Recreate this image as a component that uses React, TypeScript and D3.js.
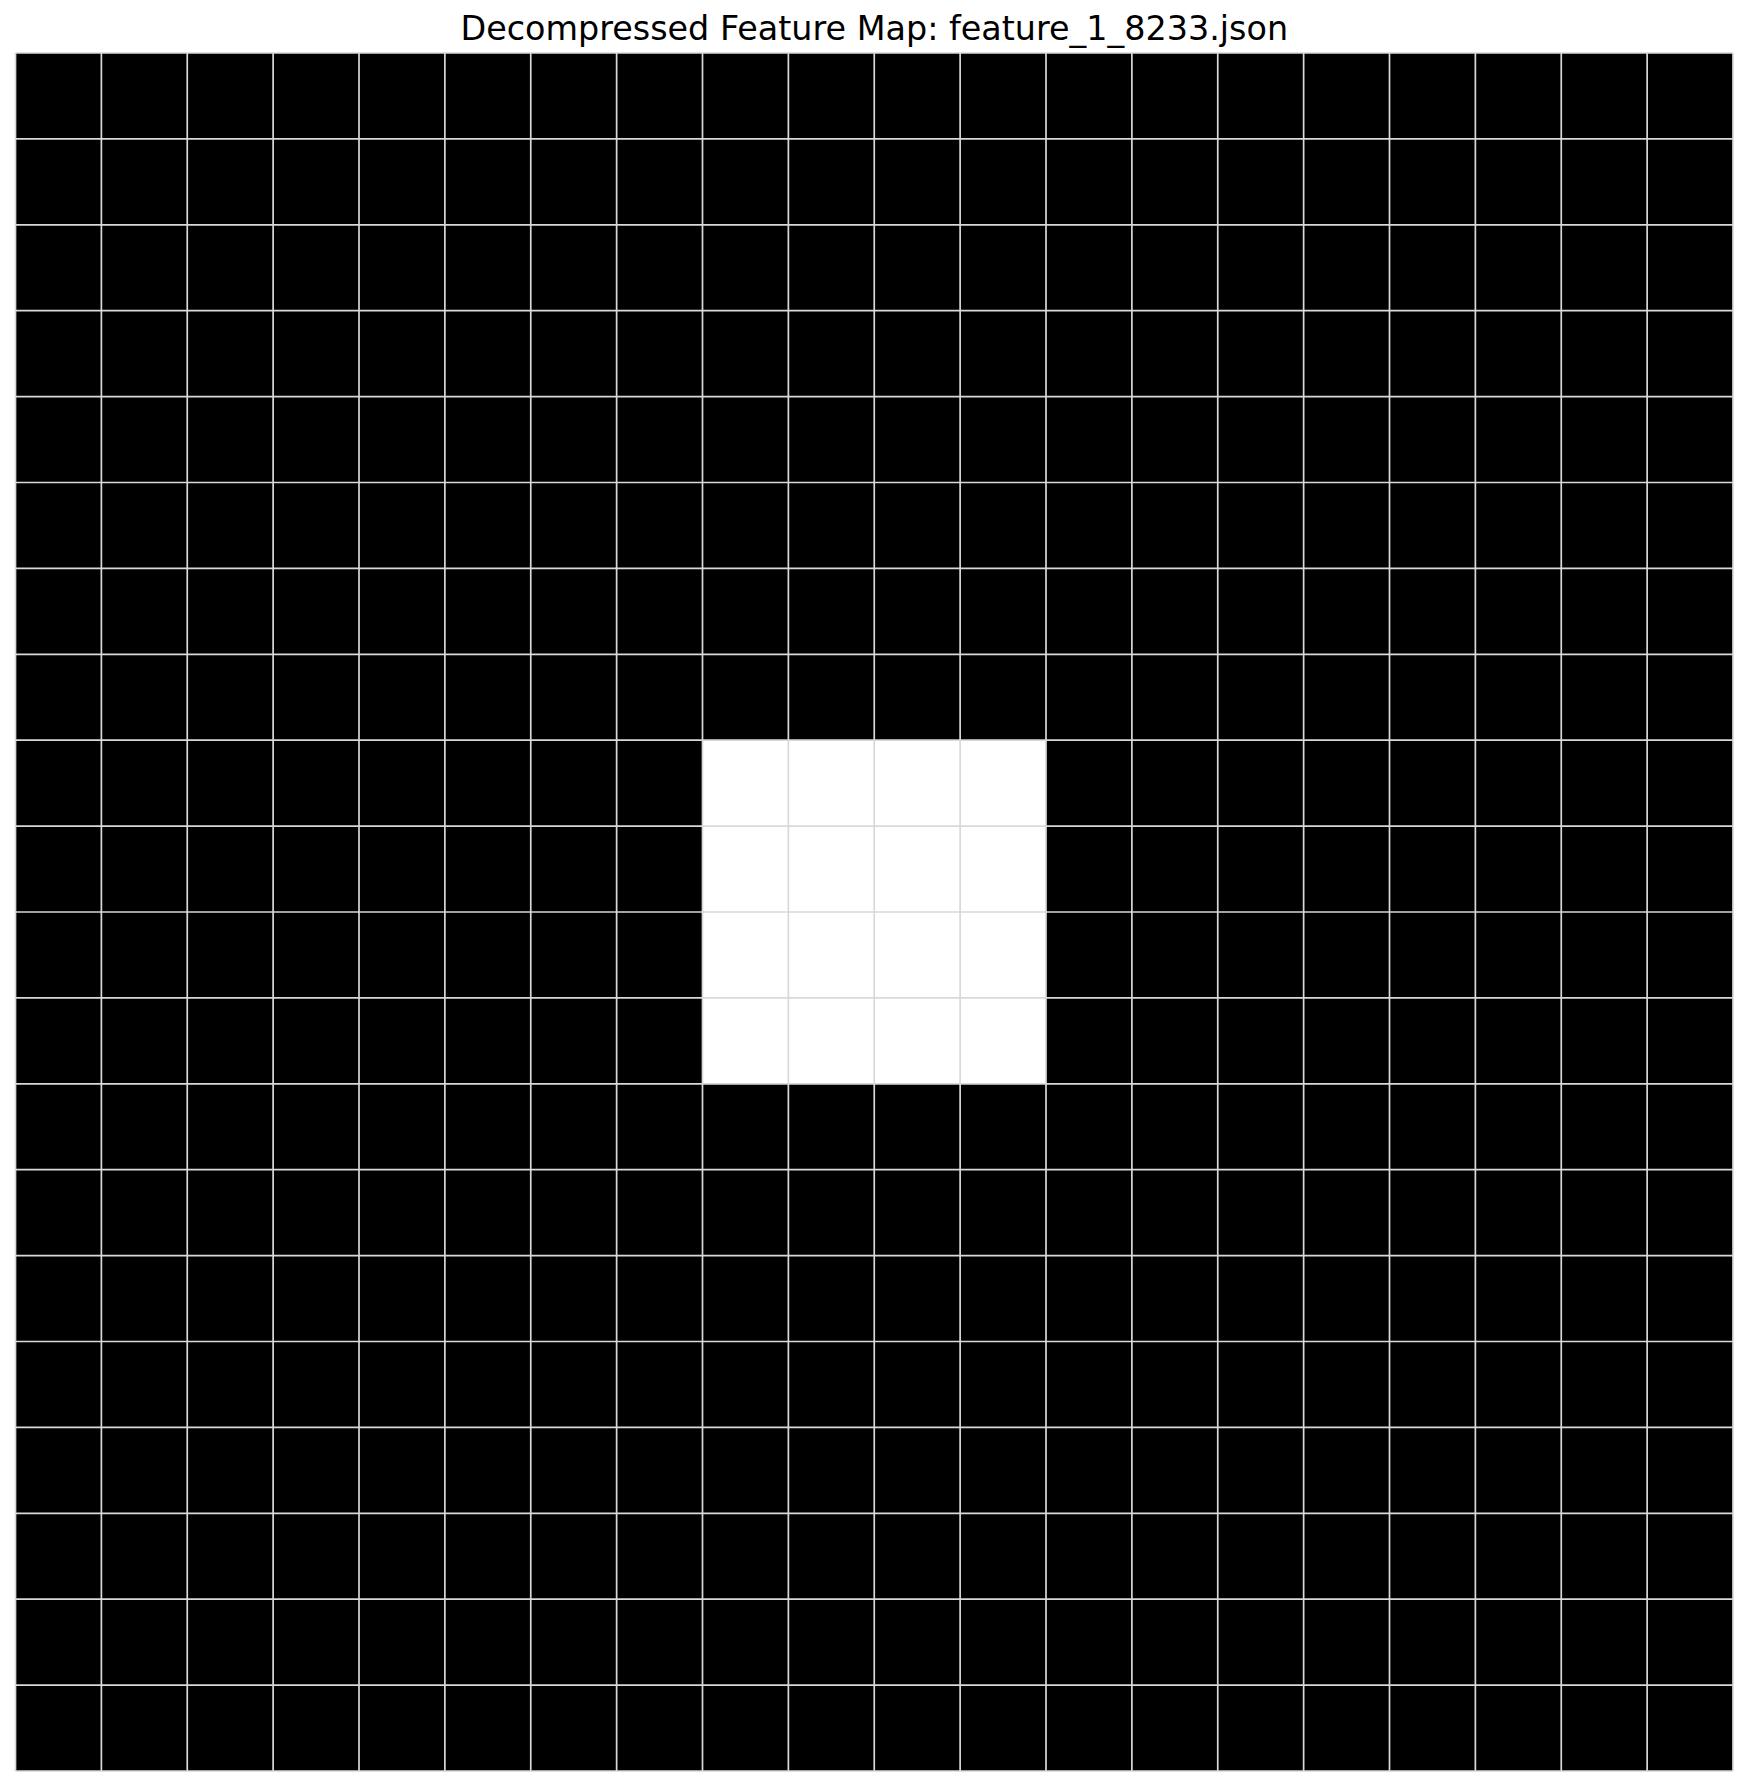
import { useEffect, useRef } from 'react'
import * as d3 from 'd3'

const TITLE = 'Decompressed Feature Map: feature_1_8233.json'

// 20 x 20 feature map, 1 = active (white), 0 = inactive (black)
const FEATURE_ROWS: number[][] = [
  [0, 0, 0, 0, 0, 0, 0, 0, 0, 0, 0, 0, 0, 0, 0, 0, 0, 0, 0, 0],
  [0, 0, 0, 0, 0, 0, 0, 0, 0, 0, 0, 0, 0, 0, 0, 0, 0, 0, 0, 0],
  [0, 0, 0, 0, 0, 0, 0, 0, 0, 0, 0, 0, 0, 0, 0, 0, 0, 0, 0, 0],
  [0, 0, 0, 0, 0, 0, 0, 0, 0, 0, 0, 0, 0, 0, 0, 0, 0, 0, 0, 0],
  [0, 0, 0, 0, 0, 0, 0, 0, 0, 0, 0, 0, 0, 0, 0, 0, 0, 0, 0, 0],
  [0, 0, 0, 0, 0, 0, 0, 0, 0, 0, 0, 0, 0, 0, 0, 0, 0, 0, 0, 0],
  [0, 0, 0, 0, 0, 0, 0, 0, 0, 0, 0, 0, 0, 0, 0, 0, 0, 0, 0, 0],
  [0, 0, 0, 0, 0, 0, 0, 0, 0, 0, 0, 0, 0, 0, 0, 0, 0, 0, 0, 0],
  [0, 0, 0, 0, 0, 0, 0, 0, 1, 1, 1, 1, 0, 0, 0, 0, 0, 0, 0, 0],
  [0, 0, 0, 0, 0, 0, 0, 0, 1, 1, 1, 1, 0, 0, 0, 0, 0, 0, 0, 0],
  [0, 0, 0, 0, 0, 0, 0, 0, 1, 1, 1, 1, 0, 0, 0, 0, 0, 0, 0, 0],
  [0, 0, 0, 0, 0, 0, 0, 0, 1, 1, 1, 1, 0, 0, 0, 0, 0, 0, 0, 0],
  [0, 0, 0, 0, 0, 0, 0, 0, 0, 0, 0, 0, 0, 0, 0, 0, 0, 0, 0, 0],
  [0, 0, 0, 0, 0, 0, 0, 0, 0, 0, 0, 0, 0, 0, 0, 0, 0, 0, 0, 0],
  [0, 0, 0, 0, 0, 0, 0, 0, 0, 0, 0, 0, 0, 0, 0, 0, 0, 0, 0, 0],
  [0, 0, 0, 0, 0, 0, 0, 0, 0, 0, 0, 0, 0, 0, 0, 0, 0, 0, 0, 0],
  [0, 0, 0, 0, 0, 0, 0, 0, 0, 0, 0, 0, 0, 0, 0, 0, 0, 0, 0, 0],
  [0, 0, 0, 0, 0, 0, 0, 0, 0, 0, 0, 0, 0, 0, 0, 0, 0, 0, 0, 0],
  [0, 0, 0, 0, 0, 0, 0, 0, 0, 0, 0, 0, 0, 0, 0, 0, 0, 0, 0, 0],
  [0, 0, 0, 0, 0, 0, 0, 0, 0, 0, 0, 0, 0, 0, 0, 0, 0, 0, 0, 0],
]

const WIDTH = 1748
const HEIGHT = 1787

export default function App() {
  const svgRef = useRef<SVGSVGElement>(null)

  useEffect(() => {
    document.body.style.margin = '0'
    const svgEl = svgRef.current
    if (!svgEl) return

    const margin = { top: 53, right: 15, bottom: 16, left: 15.5 }
    const W = WIDTH - margin.left - margin.right
    const H = HEIGHT - margin.top - margin.bottom

    const svg = d3.select(svgEl)
    svg.selectAll('*').remove()

    const nRows = FEATURE_ROWS.length
    const nCols = FEATURE_ROWS[0].length

    const x = d3.scaleBand<number>()
      .domain(d3.range(nCols))
      .range([0, W])
    const y = d3.scaleBand<number>()
      .domain(d3.range(nRows))
      .range([0, H])

    const color = d3.scaleOrdinal<number, string>()
      .domain([0, 1])
      .range(['#000000', '#ffffff'])

    const g = svg.append('g')
      .attr('transform', `translate(${margin.left},${margin.top})`)

    const cells = FEATURE_ROWS.flatMap((row, r) => row.map((v, c) => ({ r, c, v })))

    g.selectAll('rect.cell')
      .data(cells)
      .enter()
      .append('rect')
      .attr('class', 'cell')
      .attr('x', d => x(d.c)!)
      .attr('y', d => y(d.r)!)
      .attr('width', x.bandwidth())
      .attr('height', y.bandwidth())
      .attr('fill', d => color(d.v))
      .attr('shape-rendering', 'crispEdges')

    // cell edges
    const xEdges = [...d3.range(nCols).map(c => x(c)!), W]
    const yEdges = [...d3.range(nRows).map(r => y(r)!), H]

    g.selectAll('line.vx')
      .data(xEdges)
      .enter()
      .append('line')
      .attr('x1', d => d).attr('x2', d => d)
      .attr('y1', 0).attr('y2', H)
      .attr('stroke', '#d9d9d9').attr('stroke-width', 1.7)

    g.selectAll('line.hy')
      .data(yEdges)
      .enter()
      .append('line')
      .attr('y1', d => d).attr('y2', d => d)
      .attr('x1', 0).attr('x2', W)
      .attr('stroke', '#d9d9d9').attr('stroke-width', 1.7)

    svg.append('text')
      .attr('x', margin.left + W / 2)
      .attr('y', 40)
      .attr('text-anchor', 'middle')
      .attr('font-family', 'DejaVu Sans')
      .attr('font-size', 33.4)
      .attr('fill', '#000')
      .text(TITLE)
  }, [])

  return <svg ref={svgRef} width={WIDTH} height={HEIGHT} style={{ display: 'block' }} />
}
